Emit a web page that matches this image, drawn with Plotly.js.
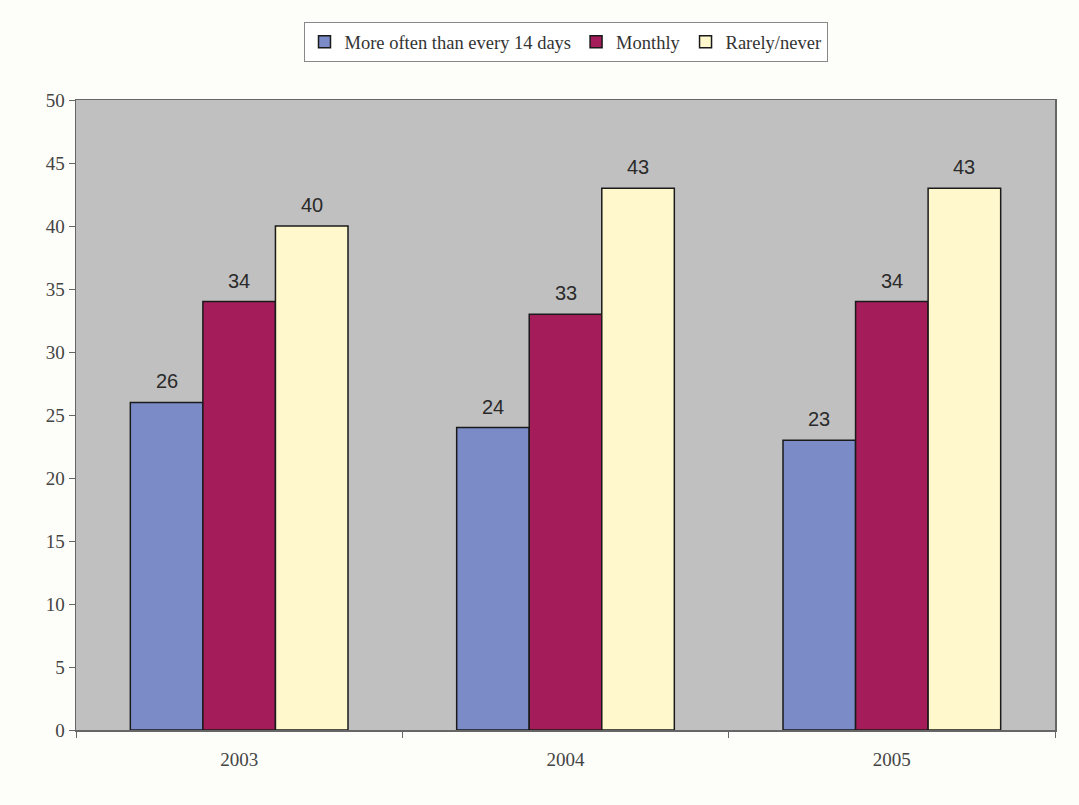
<!DOCTYPE html>
<html>
<head>
<meta charset="utf-8">
<script src="https://cdn.plot.ly/plotly-3.0.1.min.js"></script>
<style>html,body{margin:0;padding:0;background:#fdfdf9;}#chart{width:1079px;height:805px;}</style>
</head>
<body>
<div id="chart"></div>
<script>
var years = ["2003", "2004", "2005"];
var seriesNames = ["More often than every 14 days", "Monthly", "Rarely/never"];
var frequent = [26, 24, 23];
var monthly = [34, 33, 34];
var rarely = [40, 43, 43];
var yTicks = [0, 5, 10, 15, 20, 25, 30, 35, 40, 45, 50];

var colors = ["#7b8bc8", "#a51c5a", "#fff8cc"];
var values = [frequent, monthly, rarely];

var traces = values.map(function (v, i) {
  return {
    type: "bar",
    name: seriesNames[i],
    x: years,
    y: v,
    offsetgroup: String(i),
    marker: {color: colors[i], line: {color: "#1a1a1a", width: 1.5}},
    hoverinfo: "none"
  };
});

// value labels above each bar, positioned via the axes
var bargap = 0.333;
var barW = (1 - bargap) / 3;
var annotations = [];
values.forEach(function (v, i) {
  v.forEach(function (val, j) {
    annotations.push({
      x: j + (-1 + i) * barW,
      y: val,
      xref: "x", yref: "y",
      text: String(val),
      showarrow: false,
      yanchor: "bottom",
      yshift: 8,
      font: {family: "Liberation Sans, Arial, sans-serif", size: 20, color: "#2a2a2a"}
    });
  });
});

var layout = {
  width: 1079,
  height: 805,
  paper_bgcolor: "#fdfdf9",
  plot_bgcolor: "#c0c0c0",
  margin: {l: 76, r: 24, t: 100, b: 75},
  barmode: "group",
  bargap: bargap,
  bargroupgap: 0,
  showlegend: true,
  annotations: annotations,
  legend: {
    orientation: "h",
    x: 0.5, xanchor: "center",
    y: 1.06, yanchor: "bottom",
    bgcolor: "#ffffff",
    bordercolor: "#888888",
    borderwidth: 1,
    font: {family: "Liberation Serif, serif", size: 18.5, color: "#333"},
    tracegroupgap: 0
  },
  xaxis: {
    type: "category",
    tickson: "boundaries",
    ticks: "outside",
    ticklen: 6,
    tickcolor: "#666",
    showline: true,
    linecolor: "#666",
    linewidth: 1.5,
    mirror: true,
    showgrid: false,
    ticklabelstandoff: 12,
    tickfont: {family: "Liberation Serif, serif", size: 19, color: "#444"},
    fixedrange: true
  },
  yaxis: {
    range: [0, 50],
    tickvals: yTicks,
    ticktext: yTicks.map(String),
    ticks: "outside",
    ticklen: 6,
    tickcolor: "#666",
    showline: true,
    linecolor: "#666",
    linewidth: 1.5,
    mirror: true,
    showgrid: false,
    zeroline: false,
    tickfont: {family: "Liberation Serif, serif", size: 19, color: "#444"},
    fixedrange: true
  }
};

Plotly.newPlot("chart", traces, layout, {displayModeBar: false, staticPlot: true});
</script>
</body>
</html>
